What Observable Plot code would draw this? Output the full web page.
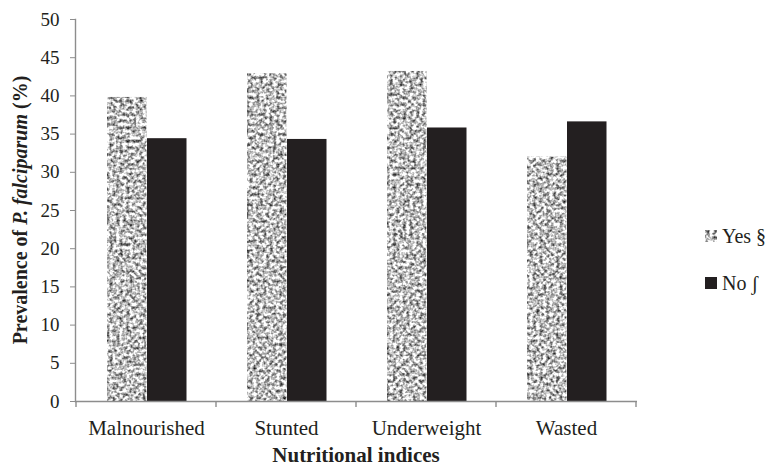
<!DOCTYPE html>
<html>
<head>
<meta charset="utf-8">
<script src="https://cdn.jsdelivr.net/npm/d3@7"></script>
<script src="https://cdn.jsdelivr.net/npm/@observablehq/plot@0.6"></script>
<style>
  html, body { margin: 0; padding: 0; background: white; }
  #chart { width: 772px; height: 468px; }
  #chart svg, #chart svg text { font-family: "Liberation Serif", "Times New Roman", serif !important; }
</style>
</head>
<body>
<div id="chart"></div>
<script>
const categories = ["Malnourished", "Stunted", "Underweight", "Wasted"];
const seriesNames = ["Yes §", "No ʃ"];
const yesValues = [39.8, 42.9, 43.2, 32.0];
const noValues = [34.4, 34.3, 35.8, 36.6];
const yTicks = [0, 5, 10, 15, 20, 25, 30, 35, 40, 45, 50];

const yesRows = categories.map((c, i) => ({category: c, series: seriesNames[0], value: yesValues[i]}));
const noRows = categories.map((c, i) => ({category: c, series: seriesNames[1], value: noValues[i]}));

const axisGrey = "#8d8d8d";
const ink = "#231f20";
const font = "Liberation Serif, Times New Roman, serif";

const svg = Plot.plot({
  width: 772,
  height: 468,
  marginLeft: 75,
  marginRight: 135,
  marginTop: 19,
  marginBottom: 67,
  style: {fontFamily: font, fontSize: "19px", color: ink, background: "white", overflow: "visible"},
  x: {domain: categories, padding: 0, label: null},
  y: {domain: [0, 50], label: null},
  marks: [
    Plot.barY(yesRows, {x: "category", y: "value", fill: "url(#noiseFill)", insetLeft: 31, insetRight: 69.5}),
    Plot.barY(noRows, {x: "category", y: "value", fill: ink, insetLeft: 71, insetRight: 29.5}),
    Plot.axisY({ticks: yTicks, tickSize: 5, tickPadding: 11, stroke: axisGrey, fontSize: 19, fontFamily: font, label: null, tickFormat: d => d}),
    Plot.axisX({tickSize: 0, tickPadding: 19, fontSize: 21, fontFamily: font, label: null}),
    Plot.ruleY([0], {stroke: axisGrey, strokeWidth: 1.4}),
    Plot.frame({anchor: "left", stroke: axisGrey, strokeWidth: 1.4})
  ]
});

const root = d3.select(svg);
root.insert("defs", ":first-child").html(`
  <filter id="noiseFilter" x="0" y="0" width="100%" height="100%" color-interpolation-filters="sRGB">
    <feTurbulence type="fractalNoise" baseFrequency="0.3" numOctaves="2" seed="11" result="t"/>
    <feColorMatrix in="t" type="matrix" values="
      1.7 0 0 0 -0.1
      1.7 0 0 0 -0.1
      1.7 0 0 0 -0.1
      0 0 0 0 1"/>
    <feGaussianBlur stdDeviation="0.4"/>
  </filter>
  <pattern id="noiseFill" patternUnits="userSpaceOnUse" x="0" y="0" width="772" height="468">
    <rect x="0" y="0" width="772" height="468" fill="#aaa" filter="url(#noiseFilter)"/>
  </pattern>
`);

// category boundary ticks on the x axis, placed with the plot's x scale
const xs = svg.scale("x");
const ys = svg.scale("y");
const y0 = ys.apply(0);
const bounds = categories.map(c => xs.apply(c)).concat([xs.apply(categories[categories.length - 1]) + xs.bandwidth]);
root.append("g").selectAll("line").data(bounds).join("line")
  .attr("x1", d => d).attr("x2", d => d)
  .attr("y1", y0).attr("y2", y0 + 6)
  .attr("stroke", axisGrey).attr("stroke-width", 1.4);

// Axis titles
const xMid = (xs.apply(categories[0]) + xs.apply(categories[3]) + xs.bandwidth) / 2;
root.append("text")
  .attr("x", xMid).attr("y", 462)
  .attr("text-anchor", "middle")
  .attr("font-family", font).attr("font-weight", "bold").attr("font-size", 21)
  .attr("fill", ink)
  .text("Nutritional indices");

const yMid = (ys.apply(0) + ys.apply(50)) / 2;
const yt = root.append("text")
  .attr("transform", `translate(27,${yMid}) rotate(-90)`)
  .attr("text-anchor", "middle")
  .attr("font-family", font).attr("font-weight", "bold").attr("font-size", 20)
  .attr("fill", ink);
yt.append("tspan").text("Prevalence of ");
yt.append("tspan").attr("font-style", "italic").text("P. falciparum");
yt.append("tspan").text(" (%)");

// Legend
const legend = root.append("g")
  .attr("font-family", font).attr("font-size", 20).attr("fill", ink).attr("text-anchor", "start");
const legendItems = [
  {name: seriesNames[0], fill: "url(#noiseFill)", y: 243},
  {name: seriesNames[1], fill: ink, y: 290}
];
legendItems.forEach(it => {
  legend.append("rect").attr("x", 705).attr("y", it.y - 13).attr("width", 12).attr("height", 12).attr("fill", it.fill);
  legend.append("text").attr("x", 722).attr("y", it.y).text(it.name);
});

document.getElementById("chart").appendChild(svg);
</script>
</body>
</html>
